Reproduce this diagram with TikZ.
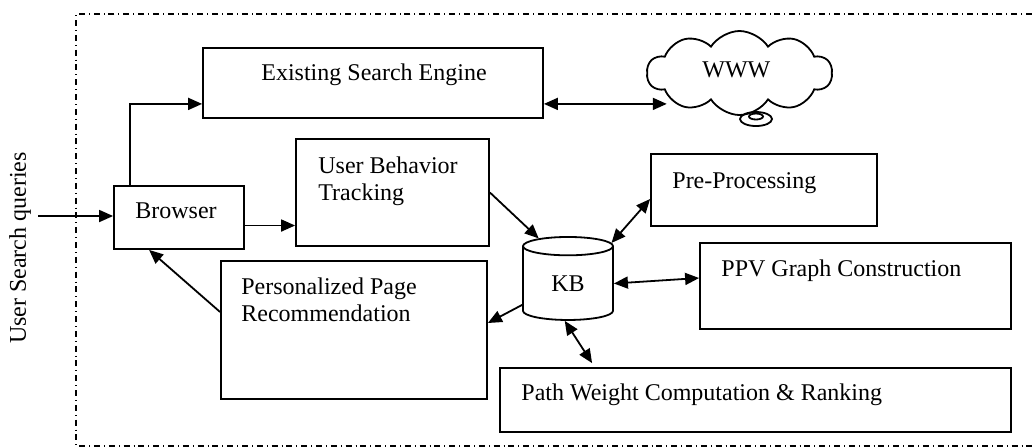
\documentclass[tikz,border=0pt]{standalone}
\usepackage{fontspec}
\setmainfont{Liberation Serif}
\usetikzlibrary{shapes.geometric,shapes.symbols,arrows.meta,fit,calc}

\begin{document}
\begin{tikzpicture}[
        x=0.5pt, y=-0.5pt,
        font=\fontsize{12}{13.5}\selectfont,
        box/.style={
            draw,
            line width=0.9pt,
            inner sep=0pt,
            fit={#1}
        },
        txt/.style={anchor=base west, align=left, inner sep=0pt},
        arr/.style={line width=0.9pt, -{Triangle[length=7pt,width=6pt]}},
        biarr/.style={line width=0.9pt, {Triangle[length=7pt,width=6pt]}-{Triangle[length=7pt,width=6pt]}}
    ]
        \useasboundingbox (0,0) rectangle (1032,447);

        % System boundary
        \draw[dash dot, line width=0.7pt] (1032,14) -| (76,446) -- (1032,446);

        % Boxes
        \node[box={(203,48) (543,118)}] (ese) {};
        \node[box={(114,186) (244,249)}] (browser) {};
        \node[box={(296,139) (489,246)}] (ubt) {};
        \node[box={(651,154) (877,226)}] (pre) {};
        \node[box={(700,243) (1011,329)}] (ppv) {};
        \node[box={(500,368) (1011,432)}] (pwcr) {};
        \node[box={(221,261) (487,399)}] (ppr) {};

        % Labels inside boxes (base = last line)
        \node[txt] (eselbl) at (261,80) {Existing Search Engine};
        \node[txt] (browserlbl) at (135,218) {Browser};
        \node[txt] (ubtlbl) at (318,200) {User Behavior\\Tracking};
        \node[txt] (prelbl) at (672,188) {Pre-Processing};
        \node[txt] (ppvlbl) at (721,276) {PPV Graph Construction};
        \node[txt] (pwcrlbl) at (521,400) {Path Weight Computation \& Ranking};
        \node[txt] (pprlbl) at (241,321) {Personalized Page\\Recommendation};

        % Knowledge base and web
        \node[draw, line width=0.9pt, cylinder, shape border rotate=90, aspect=0.55,
              minimum height=41.5pt, minimum width=45pt, inner sep=0pt] (kb) at (568,283.5) {KB};
        \node[draw, line width=0.9pt, cloud, cloud puffs=10, cloud puff arc=115,
              minimum width=92.5pt, minimum height=42pt, inner sep=0pt] (www) at (739.5,73) {};
        \node[txt] (wwwlbl) at (702,77) {WWW};
        \draw[line width=0.9pt] (756,119) ellipse [x radius=16, y radius=7];
        \draw[line width=0.9pt] (756,116.5) ellipse [x radius=7, y radius=3];

        % Query input
        \node[rotate=90, inner sep=0pt] (query) at (20,248) {User Search queries};
        \coordinate (in) at (38,216);
        \draw[arr] (in) -- (in -| browser.west);

        % Connectors
        \coordinate (b2e) at ($(browser.north west)+(17,0)$);
        \coordinate (ew) at ($(ese.south west)+(0,-15)$);
        \draw[arr] (b2e) |- (ew);
        \coordinate (ee) at ($(ese.south east)+(0,-15)$);
        \draw[biarr] (ee) -- (ee -| www.197);
        \coordinate (b2u) at ($(browser.east)+(0,8)$);
        \draw[arr] (b2u) -- (b2u -| ubt.west);
        \draw[arr] (ubt.east) -- (kb.123);
        \draw[biarr] (kb.43) -- ($(pre.west)+(0,9)$);
        \draw[biarr] (kb.east) -- ($(ppv.west)+(0,-8)$);
        \draw[biarr] (kb.265) -- ($(pwcr.north west)+(93,-4)$);
        \draw[arr] (kb.205) -- ($(ppr.east)+(0,-7)$);
        \draw[arr] ($(ppr.west)+(0,-18)$) -- ($(browser.south west)+(36,0)$);
    \end{tikzpicture}
\end{document}
